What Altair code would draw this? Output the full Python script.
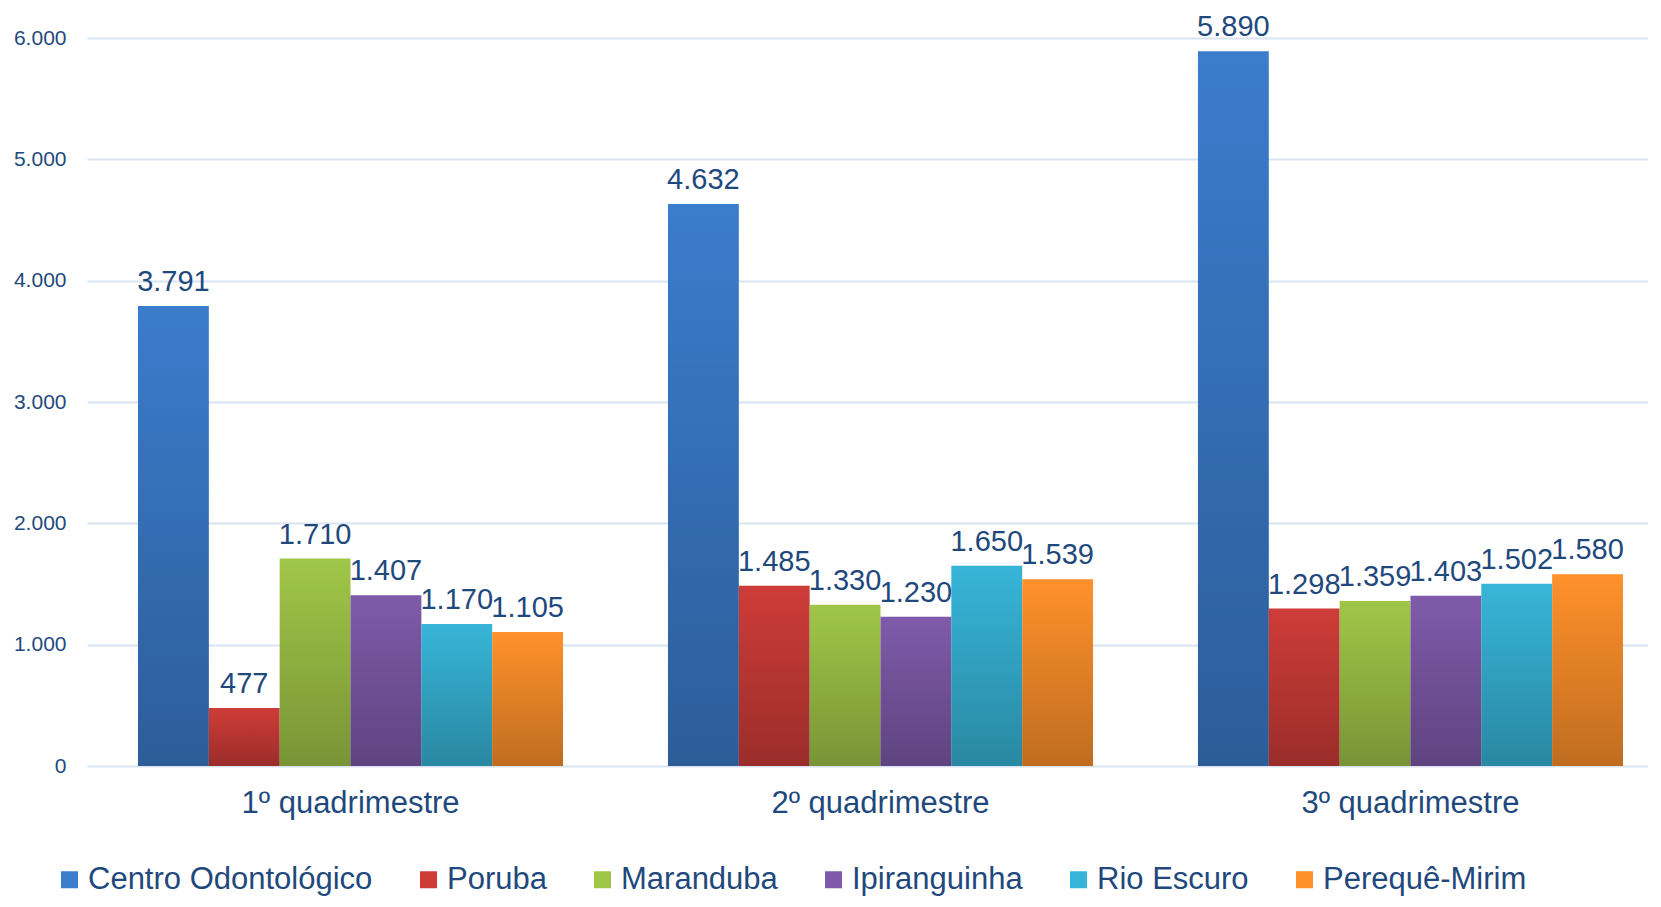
import altair as alt
import pandas as pd

quarters = ["1º quadrimestre", "2º quadrimestre", "3º quadrimestre"]
units = ["Centro Odontológico", "Poruba", "Maranduba", "Ipiranguinha", "Rio Escuro", "Perequê-Mirim"]
centro = [3791, 4632, 5890]
poruba = [477, 1485, 1298]
maranduba = [1710, 1330, 1359]
ipiranguinha = [1407, 1230, 1403]
rio_escuro = [1170, 1650, 1502]
pereque = [1105, 1539, 1580]
colors = ["#3B7CCC", "#CE3C38", "#A0C648", "#7F5AAA", "#37B5D8", "#FF912B"]
y_ticks = [0, 1000, 2000, 3000, 4000, 5000, 6000]

series = [centro, poruba, maranduba, ipiranguinha, rio_escuro, pereque]
rows = []
for u, vals in zip(units, series):
    for q, v in zip(quarters, vals):
        rows.append({"quarter": q, "unit": u, "value": v,
                     "label": f"{v:,}".replace(",", ".")})
df = pd.DataFrame(rows)

TEXT = "#1F497D"
FONT = "Liberation Sans"

x_enc = alt.X("quarter:N", sort=quarters, title=None,
              scale=alt.Scale(paddingInner=0.198, paddingOuter=0.0717, align=0.671),
              axis=alt.Axis(labelAngle=0, domain=False, ticks=False, labelFontSize=31,
                            labelColor=TEXT, labelPadding=22, labelFont=FONT, labelLimit=500))
xo_enc = alt.XOffset("unit:N", sort=units, scale=alt.Scale(paddingInner=0, paddingOuter=0))
y_enc = alt.Y("value:Q", title=None,
              scale=alt.Scale(domain=[0, 6000], nice=False),
              axis=alt.Axis(values=y_ticks, domain=False, ticks=False, labelFontSize=21,
                            labelColor=TEXT, labelPadding=21, labelFont=FONT,
                            gridColor="#D9E4F3", gridWidth=2,
                            labelExpr="replace(format(datum.value, ','), ',', '.')"))

base = alt.Chart(df)

bars = base.mark_bar().encode(
    x=x_enc, xOffset=xo_enc, y=y_enc,
    color=alt.Color("unit:N", sort=units,
                    scale=alt.Scale(domain=units, range=colors),
                    legend=alt.Legend(title=None, orient="none", legendX=-33, legendY=826,
                                      direction="horizontal", columns=6, symbolType="square",
                                      symbolSize=289, symbolStrokeWidth=0, labelFontSize=31,
                                      labelColor=TEXT, labelFont=FONT, labelOffset=3,
                                      columnPadding=40, padding=0, labelLimit=400)),
)

shade = base.mark_bar(
    fill=alt.LinearGradient(gradient="linear",
                            stops=[alt.GradientStop(color="rgba(0,0,0,0)", offset=0),
                                   alt.GradientStop(color="rgba(0,0,0,0.25)", offset=1)],
                            x1=0, x2=0, y1=0, y2=1)
).encode(x=x_enc, xOffset=xo_enc, y=y_enc)

labels = base.mark_text(align="center", baseline="alphabetic", dy=-15, fontSize=29,
                        color=TEXT, font=FONT).encode(
    x=x_enc, xOffset=xo_enc, y=y_enc, text="label:N")

chart = alt.layer(bars, shade, labels).properties(
    width=1561, height=728,
    autosize=alt.AutoSizeParams(type="none"),
    padding={"left": 79, "top": 30, "right": 0, "bottom": 133},
).configure_view(stroke=None)

chart.save("out.html", embed_options={"renderer": "svg", "actions": False})
